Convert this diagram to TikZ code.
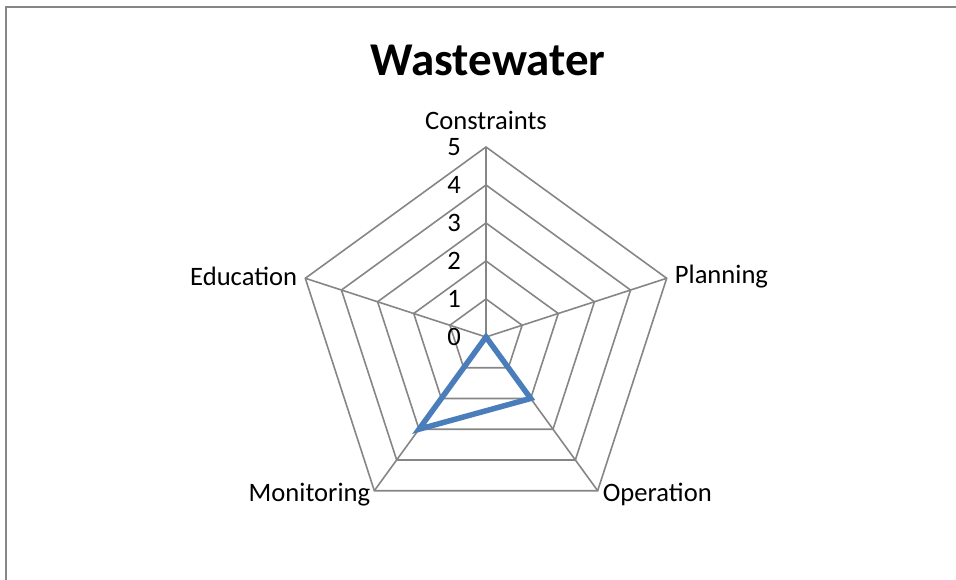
\documentclass[tikz,border=0pt]{standalone}
\usepackage{fontspec}
\setmainfont{Carlito}
\usetikzlibrary{positioning,calc}
\definecolor{gridgray}{RGB}{134,134,134}
\definecolor{seriesblue}{RGB}{74,126,187}

\begin{document}
\begin{tikzpicture}
[x=1pt,y=1pt,
%
frame/.style={draw=gridgray,line width=1.5pt},
grid/.style={draw=gridgray,line width=1.6pt},
series/.style={draw=seriesblue,line width=5.5pt,line join=miter},
axislabel/.style={inner sep=0pt,font=\fontsize{26.6}{32}\selectfont},
tick/.style={axislabel,anchor=east},
title/.style={inner sep=0pt,font=\fontsize{47}{54}\selectfont\bfseries}]
%
\useasboundingbox (0,0) rectangle (956,580);
\draw[frame] (6,0) -- (6,573) -- (957,573);
%
%% title
\node (title) [title] at (488,520) {Wastewater};
%
%% grid
\def\rad{38}
\coordinate (ctr) at (486,243);
\begin{scope}[shift={(ctr)}]
\foreach \l in {1,...,5}
\draw[grid] (90:\rad*\l) -- (162:\rad*\l) -- (234:\rad*\l) -- (306:\rad*\l) -- (18:\rad*\l) -- cycle;
%% axis tips
\coordinate (con) at (90:\rad*5);
\coordinate (edu) at (162:\rad*5);
\coordinate (mon) at (234:\rad*5);
\coordinate (ope) at (306:\rad*5);
\coordinate (pla) at (18:\rad*5);
%% data points
\coordinate (ope2) at (306:\rad*2);
\coordinate (mon3) at (234:\rad*3);
%% ticks
\foreach \l in {0,...,5}
\node (t\l) [tick] at (-25,\rad*\l) {\l};
\end{scope}
%
%% spokes
\foreach \a in {con,edu,mon,ope,pla}
\draw[grid] (ctr) -- (\a);
%
%% axis labels
\node (lcon) [axislabel,above=17pt of con] {Constraints};
\node (lpla) [axislabel,right=8pt of pla,yshift=2pt] {Planning};
\node (ledu) [axislabel,left=8pt of edu,yshift=2pt] {Education};
\node (lmon) [axislabel,left=4pt of mon,yshift=-4pt] {Monitoring};
\node (lope) [axislabel,right=5pt of ope,yshift=-4pt] {Operation};
%
%% series
\draw[series] (ctr) -- (ope2) -- (mon3) -- cycle;
\end{tikzpicture}
\end{document}
